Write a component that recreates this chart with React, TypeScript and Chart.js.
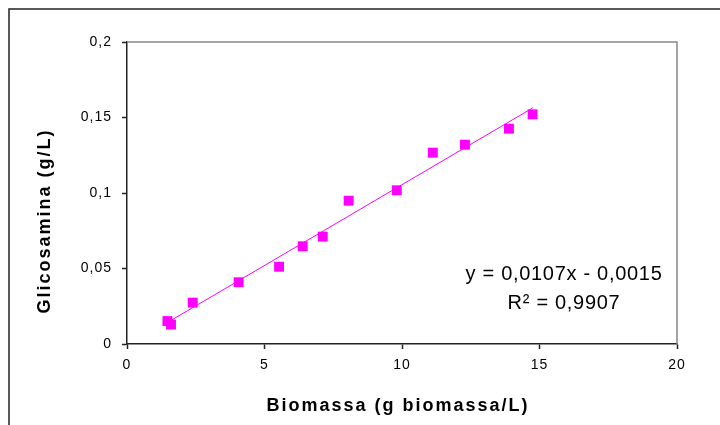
import React, { useEffect, useRef } from "react";
import { Chart, registerables } from "chart.js";

Chart.register(...registerables);

const biomassa = [1.47, 1.6, 2.39, 4.06, 5.53, 6.39, 7.12, 8.06, 9.81, 11.12, 12.29, 13.89, 14.75];
const glicosamina = [0.0152, 0.0129, 0.0274, 0.0409, 0.0512, 0.0647, 0.0711, 0.0949, 0.1018, 0.1267, 0.132, 0.1426, 0.1521];
const trendSlope = 0.0107;
const trendIntercept = -0.0015;
const trendRange = [1.47, 14.75];
const xTitle = "Biomassa (g biomassa/L)";
const yTitle = "Glicosamina (g/L)";
const eqLine1 = "y = 0,0107x - 0,0015";
const eqLine2 = "R\u00B2 = 0,9907";

const FONT = '"Liberation Sans", Arial, sans-serif';

export default function App() {
  const ref = useRef<HTMLCanvasElement | null>(null);

  useEffect(() => {
    const canvas = ref.current;
    if (!canvas) return;

    const decor = {
      id: "decor",
      beforeDraw(chart: any) {
        const ctx = chart.ctx;
        ctx.fillStyle = "#fff";
        ctx.fillRect(0, 0, chart.width, chart.height);
        (ctx as any).letterSpacing = "1px";
      },
      afterDraw(chart: any) {
        const ctx = chart.ctx;
        const a = chart.chartArea;
        ctx.save();
        // outer frame
        ctx.strokeStyle = "#222";
        ctx.lineWidth = 1.5;
        ctx.beginPath();
        ctx.moveTo(9, 425);
        ctx.lineTo(9, 9);
        ctx.lineTo(720, 9);
        ctx.stroke();
        // plot border top/right
        ctx.strokeStyle = "#888";
        ctx.lineWidth = 1.5;
        ctx.beginPath();
        ctx.moveTo(a.left, a.top);
        ctx.lineTo(a.right, a.top);
        ctx.lineTo(a.right, a.bottom);
        ctx.stroke();
        // titles
        ctx.fillStyle = "#000";
        ctx.font = `bold 18px ${FONT}`;
        (ctx as any).letterSpacing = "2px";
        ctx.textAlign = "center";
        ctx.textBaseline = "middle";
        ctx.fillText(xTitle, 398, 406);
        ctx.save();
        ctx.translate(45, 221);
        ctx.rotate(-Math.PI / 2);
        ctx.fillText(yTitle, 0, 0);
        ctx.restore();
        // equation
        ctx.font = `20px ${FONT}`;
        (ctx as any).letterSpacing = "0.7px";
        ctx.fillText(eqLine1, 564, 274);
        ctx.fillText(eqLine2, 564, 303);
        ctx.restore();
      },
    };

    const points = biomassa.map((x, i) => ({ x, y: glicosamina[i] }));
    const trend = trendRange.map((x) => ({ x, y: trendSlope * x + trendIntercept }));

    const chart = new Chart(canvas, {
      type: "scatter",
      data: {
        datasets: [
          {
            type: "line",
            data: trend,
            borderColor: "#FF00FF",
            borderWidth: 1,
            pointRadius: 0,
            fill: false,
          } as any,
          {
            data: points,
            backgroundColor: "#FF00FF",
            borderColor: "#FF00FF",
            borderWidth: 0,
            pointStyle: "rect",
            pointRadius: 7,
            pointHoverRadius: 7,
          },
        ],
      },
      options: {
        responsive: false,
        animation: false,
        events: [],
        layout: { padding: { left: 0, top: 42, right: 43, bottom: 0 } },
        plugins: { legend: { display: false }, tooltip: { enabled: false } },
        scales: {
          x: {
            type: "linear",
            min: 0,
            max: 20,
            afterFit: (s: any) => {
              s.height = 81;
            },
            ticks: {
              stepSize: 5,
              color: "#000",
              padding: 8,
              font: { family: FONT, size: 14 },
            },
            grid: {
              drawOnChartArea: false,
              drawTicks: true,
              tickLength: 5,
              tickColor: "#222",
              tickWidth: 1.5,
            },
            border: { display: true, color: "#222", width: 1.5 },
          },
          y: {
            type: "linear",
            min: 0,
            max: 0.2,
            afterFit: (s: any) => {
              s.width = 127;
            },
            ticks: {
              stepSize: 0.05,
              color: "#000",
              padding: 10,
              font: { family: FONT, size: 14 },
              callback: (v: any) => String(+Number(v).toFixed(2)).replace(".", ","),
            },
            grid: {
              drawOnChartArea: false,
              drawTicks: true,
              tickLength: 5,
              tickColor: "#222",
              tickWidth: 1.5,
            },
            border: { display: true, color: "#222", width: 1.5 },
          },
        },
      },
      plugins: [decor],
    });

    return () => chart.destroy();
  }, []);

  return (
    <div style={{ position: "fixed", left: 0, top: 0, width: 720, height: 425, background: "#fff" }}>
      <canvas ref={ref} width={720} height={425} style={{ display: "block" }} />
    </div>
  );
}
